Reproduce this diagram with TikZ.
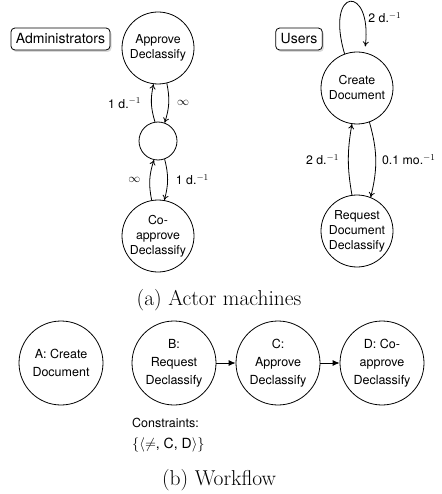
\documentclass[tikz,border=0pt]{standalone}
\usepackage{fontspec}
\newfontfamily\hv{TeX Gyre Heros}
\usetikzlibrary{arrows.meta,shadows}
\tikzset{
  state/.style={circle,draw,line width=0.8pt,minimum size=72pt,inner sep=0pt,align=center,
    font=\hv\fontsize{12.3}{15}\selectfont},
  wstate/.style={circle,draw,line width=0.8pt,minimum size=84pt,inner sep=0pt,align=center,
    font=\hv\fontsize{12.5}{18}\selectfont},
  actorbox/.style={draw,rounded corners=4pt,line width=0.8pt,fill=white,inner xsep=5pt,
    minimum height=22pt,font=\hv\fontsize{14}{16}\selectfont,
    drop shadow={opacity=0.3,shadow xshift=1.5pt,shadow yshift=-2pt}},
  arr/.style={line width=0.8pt,-{To[length=5pt,width=6pt]}},
  warr/.style={line width=0.8pt,-{Latex[length=7pt,width=6pt]}},
  lbl/.style={inner sep=0pt,font=\hv\fontsize{12.3}{14}\selectfont},
  capt/.style={font=\fontsize{21.5}{26}\selectfont}
}
\begin{document}
\begin{tikzpicture}[x=1pt,y=1pt]
\useasboundingbox (0,0) rectangle (441,-494);
% Administrators
\node[actorbox] (adm) at (60.5,-39) {Administrators};
\node[state] (appr) at (158,-48) {Approve\\Declassify};
\node[circle,draw,line width=0.8pt,minimum size=38pt,inner sep=0pt] (mid) at (158,-141) {};
\node[state] (coap) at (158,-236) {Co-\\approve\\Declassify};
\draw[arr] (mid.99) to[bend left=15] node[lbl,left=10pt] {1 d.$^{-1}$} (appr.263);
\draw[arr] (appr.284) to[bend left=15] node[lbl,right=8pt] {$\infty$} (mid.70);
\draw[arr] (coap.100) to[bend left=15] node[lbl,left=9pt] {$\infty$} (mid.258);
\draw[arr] (mid.290) to[bend left=15] node[lbl,right=8pt] {1 d.$^{-1}$} (coap.80);
% Users
\node[actorbox] (usr) at (299,-39) {Users};
\node[state] (cr) at (357,-88) {Create\\Document};
\node[state] (rq) at (357,-231) {Request\\Document\\Declassify};
\draw[arr,shorten >=6pt] (cr.110) .. controls +(-20,68) and +(8,68) .. node[lbl,pos=0.78,right=5pt] {2 d.$^{-1}$} (cr.78);
\draw[arr] (cr.290) to[bend left=15] node[lbl,right=6pt] {0.1 mo.$^{-1}$} (rq.68);
\draw[arr] (rq.98) to[bend left=10] node[lbl,left=9pt] {2 d.$^{-1}$} (cr.262);
\node[capt] (capa) at (219,-300) {(a) Actor machines};
% Workflow
\node[wstate] (wa) at (61,-363) {A: Create\\Document};
\node[wstate] (wb) at (174,-363) {B:\\Request\\Declassify};
\node[wstate] (wc) at (278,-363) {C:\\Approve\\Declassify};
\node[wstate] (wd) at (382,-363) {D: Co-\\approve\\Declassify};
\draw[warr] (wb) -- (wc);
\draw[warr] (wc) -- (wd);
\node[anchor=north west,align=left,inner sep=0pt,font=\hv\fontsize{12.5}{21}\selectfont] (cons) at (132,-418)
  {Constraints:\\{\fontsize{14}{21}\selectfont$\{\langle{\neq}$, C, D$\rangle\}$}};
\node[capt] (capb) at (219,-480) {(b) Workflow};
\end{tikzpicture}
\end{document}
